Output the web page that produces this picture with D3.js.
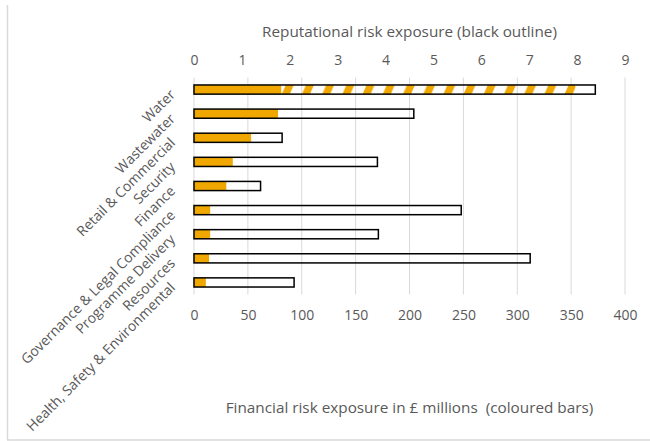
<!DOCTYPE html>
<html>
<head>
<meta charset="utf-8">
<script src="https://cdn.jsdelivr.net/npm/d3@7"></script>
<style>
  body { margin: 0; background: #fff; }
  svg { display: block; font-family: "Open Sans", sans-serif; }
</style>
</head>
<body>
<div id="chart"></div>
<script>
var categories = ['Water', 'Wastewater', 'Retail & Commercial', 'Security', 'Finance',
    'Governance & Legal Compliance', 'Programme Delivery', 'Resources', 'Health, Safety & Environmental'];
var financial = [81, 78, 53, 36, 30, 15, 15, 14, 11];
var financialHatched = [354, 0, 0, 0, 0, 0, 0, 0, 0];
var reputational = [8.38, 4.59, 1.84, 3.83, 1.39, 5.58, 3.85, 7.02, 2.09];
var financialTicks = [0, 50, 100, 150, 200, 250, 300, 350, 400];
var reputationalTicks = [0, 1, 2, 3, 4, 5, 6, 7, 8, 9];

var width = 650;
var height = 441;
var plotLeft = 194, plotRight = 625, plotTop = 77.5, plotBottom = 294.5;
var textColor = '#595959';
var gold = '#f0a800';

var svg = d3.select('#chart')
    .append('svg')
    .attr('width', width)
    .attr('height', height);

// chart frame (left and bottom edges visible)
svg.append('line').attr('x1', 7.5).attr('x2', 7.5).attr('y1', 5).attr('y2', 440)
    .attr('stroke', '#d9d9d9').attr('stroke-width', 1.5);
svg.append('line').attr('x1', 7).attr('x2', width).attr('y1', 440).attr('y2', 440)
    .attr('stroke', '#d9d9d9').attr('stroke-width', 1.5);

var xFin = d3.scaleLinear().domain([0, 400]).range([plotLeft, plotRight]);
var xRep = d3.scaleLinear().domain([0, 9]).range([plotLeft, plotRight]);
var y = d3.scaleBand().domain(categories).range([plotTop, plotBottom]).paddingInner(0.62).paddingOuter(0.31);

// gridlines
svg.append('g').selectAll('line')
    .data(financialTicks)
    .enter()
    .append('line')
    .attr('x1', function (d) {return xFin(d);})
    .attr('x2', function (d) {return xFin(d);})
    .attr('y1', plotTop)
    .attr('y2', plotBottom)
    .attr('stroke', '#d9d9d9')
    .attr('stroke-width', 1);

// bottom axis
var bottomAxis = svg.append('g')
    .attr('transform', 'translate(0,' + plotBottom + ')')
    .call(d3.axisBottom(xFin).tickValues(financialTicks).tickSize(0).tickPadding(16));
bottomAxis.select('.domain').remove();
bottomAxis.selectAll('text').attr('fill', textColor).style('font-size', '14px').style('font-family', '"Open Sans", sans-serif');

// top axis
var topAxis = svg.append('g')
    .attr('transform', 'translate(0,' + plotTop + ')')
    .call(d3.axisTop(xRep).tickValues(reputationalTicks).tickSize(0).tickPadding(13));
topAxis.select('.domain').remove();
topAxis.selectAll('text').attr('fill', textColor).style('font-size', '14px').style('font-family', '"Open Sans", sans-serif');

// hatch pattern for the Water upper range
var defs = svg.append('defs');
var hatchStart = xFin(financial[0]);
var bh = y.bandwidth();
var pattern = defs.append('pattern')
    .attr('id', 'hatch')
    .attr('patternUnits', 'userSpaceOnUse')
    .attr('x', hatchStart)
    .attr('y', y(categories[0]))
    .attr('width', 20.2)
    .attr('height', bh);
pattern.append('path')
    .attr('d', 'M0.5,' + bh + 'L8.5,' + bh + 'L12.5,0L4.5,0Z')
    .attr('fill', gold);

var rows = categories.map(function (c, i) {
    return {cat: c, fin: financial[i], hatch: financialHatched[i], rep: reputational[i]};
});

svg.append('g').selectAll('rect')
    .data(rows.filter(function (d) {return d.hatch > d.fin;}))
    .enter()
    .append('rect')
    .attr('x', function (d) {return xFin(d.fin);})
    .attr('y', function (d) {return y(d.cat);})
    .attr('width', function (d) {return xFin(d.hatch) - xFin(d.fin);})
    .attr('height', bh)
    .attr('fill', 'url(#hatch)');

svg.append('g').selectAll('rect')
    .data(rows)
    .enter()
    .append('rect')
    .attr('x', xFin(0))
    .attr('y', function (d) {return y(d.cat);})
    .attr('width', function (d) {return xFin(d.fin) - xFin(0);})
    .attr('height', bh)
    .attr('fill', gold);

svg.append('g').selectAll('rect')
    .data(rows)
    .enter()
    .append('rect')
    .attr('x', xRep(0))
    .attr('y', function (d) {return y(d.cat);})
    .attr('width', function (d) {return xRep(d.rep) - xRep(0);})
    .attr('height', bh)
    .attr('fill', 'none')
    .attr('stroke', '#000')
    .attr('stroke-width', 1.5);

// category labels, rotated
svg.append('g').selectAll('text')
    .data(categories)
    .enter()
    .append('text')
    .attr('transform', function (d) {
        return 'translate(176,' + (y(d) + bh / 2 + 6) + ') rotate(-45)';
    })
    .attr('text-anchor', 'end')
    .attr('fill', textColor)
    .style('font-size', '14px')
    .text(function (d) {return d;});

// axis titles
svg.append('text')
    .attr('x', (plotLeft + plotRight) / 2)
    .attr('y', 37)
    .attr('text-anchor', 'middle')
    .attr('fill', textColor)
    .style('font-size', '15.3px')
    .text('Reputational risk exposure (black outline)');

svg.append('text')
    .attr('x', (plotLeft + plotRight) / 2)
    .attr('y', 413)
    .attr('text-anchor', 'middle')
    .attr('fill', textColor)
    .style('font-size', '15.3px')
    .style('white-space', 'pre')
    .text('Financial risk exposure in £ millions  (coloured bars)');
</script>
</body>
</html>
